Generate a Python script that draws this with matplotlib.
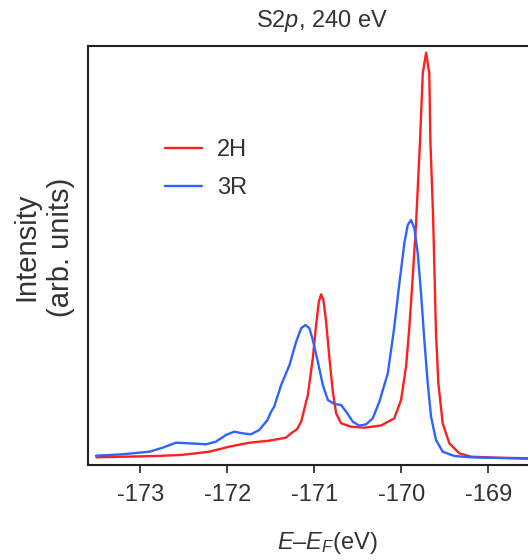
import matplotlib
matplotlib.use("Agg")
import matplotlib.pyplot as plt

plt.rcParams['font.family'] = ['Liberation Sans', 'DejaVu Sans']
plt.rcParams['mathtext.fontset'] = 'custom'
plt.rcParams['mathtext.rm'] = 'Liberation Sans'
plt.rcParams['mathtext.it'] = 'Liberation Sans:italic'

# ---- data (binding energy E-E_F in eV, intensity in arb. units) ----
energy_2h = [-173.504, -172.819, -172.528, -172.207, -171.977, -171.747, -171.518,
             -171.326, -171.265, -171.196, -171.150, -171.073, -171.016, -170.978,
             -170.947, -170.920, -170.894, -170.863, -170.825, -170.786, -170.748,
             -170.691, -170.576, -170.423, -170.231, -170.079, -170.002, -169.944,
             -169.906, -169.867, -169.829, -169.783, -169.752, -169.714, -169.677,
             -169.665, -169.634, -169.619, -169.600, -169.573, -169.523, -169.447,
             -169.332, -169.198, -168.891, -168.531, -168.400]
intensity_2h = [0.0066, 0.0098, 0.0123, 0.0203, 0.0326, 0.0424, 0.0473,
                0.0547, 0.0654, 0.0760, 0.0939, 0.1593, 0.2493, 0.3309,
                0.3880, 0.4061, 0.3922, 0.3390, 0.2493, 0.1674, 0.1145,
                0.0900, 0.0816, 0.0792, 0.0846, 0.1022, 0.1471, 0.2287,
                0.3267, 0.4493, 0.5801, 0.7843, 0.9478, 0.9983, 0.9478,
                0.7843, 0.6005, 0.4738, 0.3105, 0.1880, 0.0900, 0.0409,
                0.0164, 0.0081, 0.0056, 0.0042, 0.0040]

energy_3r = [-173.508, -173.202, -172.896, -172.743, -172.589, -172.436, -172.244,
             -172.130, -172.015, -171.919, -171.824, -171.728, -171.632, -171.537,
             -171.495, -171.460, -171.380, -171.284, -171.207, -171.150, -171.101,
             -171.055, -171.016, -170.958, -170.901, -170.843, -170.768, -170.691,
             -170.633, -170.556, -170.481, -170.404, -170.327, -170.251, -170.154,
             -170.079, -170.021, -169.964, -169.925, -169.887, -169.849, -169.810,
             -169.772, -169.734, -169.695, -169.657, -169.600, -169.523, -169.390,
             -169.198, -168.532, -168.400]
intensity_3r = [0.0105, 0.0140, 0.0203, 0.0301, 0.0424, 0.0409, 0.0385,
                0.0449, 0.0613, 0.0694, 0.0654, 0.0630, 0.0735, 0.0980,
                0.1184, 0.1306, 0.1838, 0.2328, 0.2900, 0.3228, 0.3309,
                0.3228, 0.2941, 0.2409, 0.1838, 0.1471, 0.1373, 0.1348,
                0.1184, 0.0939, 0.0841, 0.0875, 0.1022, 0.1429, 0.2125,
                0.3267, 0.4331, 0.5311, 0.5760, 0.5882, 0.5679, 0.5066,
                0.4086, 0.2941, 0.1880, 0.1061, 0.0490, 0.0203, 0.0098,
                0.0066, 0.0032, 0.0030]

x_ticks = [-173, -172, -171, -170, -169]
x_tick_labels = ['-173', '-172', '-171', '-170', '-169']
series_labels = ['2H', '3R']

# ---- figure ----
W, H = 528, 560
fig = plt.figure(figsize=(W / 100, H / 100), dpi=100)
ax = fig.add_axes([88 / W, 95 / H, (540.4 - 88) / W, 419 / H])

red = '#ff1f1f'
blue = '#2f62ff'
ax.plot(energy_2h, intensity_2h, color=red, lw=1.7, label=series_labels[0],
        solid_joinstyle='round', solid_capstyle='round')
ax.plot(energy_3r, intensity_3r, color=blue, lw=1.7, label=series_labels[1],
        solid_joinstyle='round', solid_capstyle='round')

ax.set_xlim(-173.6, -168.4)
ax.set_ylim(-0.01225, 1.0147)

ax.set_xticks(x_ticks)
ax.set_xticklabels(x_tick_labels)
ax.set_yticks([])
ax.tick_params(axis='x', direction='out', length=6, width=1.3, color='#333333',
               labelsize=17, labelcolor='#333333', pad=8)
for side in ['left', 'bottom', 'top']:
    ax.spines[side].set_linewidth(1.5)
    ax.spines[side].set_color('#222222')
ax.spines['right'].set_visible(False)

leg = ax.legend(loc='upper left', bbox_to_anchor=((165 - 88) / (540.4 - 88), (465 - 139) / 419),
                frameon=False, fontsize=17, handlelength=1.55, handletextpad=0.65,
                labelspacing=0.67, borderpad=0, borderaxespad=0)
for t in leg.get_texts():
    t.set_color('#333333')

fig.text(322 / W, 1 - 21 / H, 'S2$\\mathit{p}$, 240 eV', ha='center', va='center',
         fontsize=17, color='#333333')
fig.text(327 / W, 1 - 543 / H, '$\\mathit{E}$–$\\mathit{E}_{\\mathit{F}}$(eV)', ha='center',
         va='center', fontsize=17, color='#333333')
fig.text(44 / W, 1 - 247 / H, 'Intensity\n(arb. units)', ha='center', va='center',
         rotation=90, fontsize=21, color='#333333', linespacing=1.3,
         multialignment='center')

fig.savefig('out.png', dpi=100)
